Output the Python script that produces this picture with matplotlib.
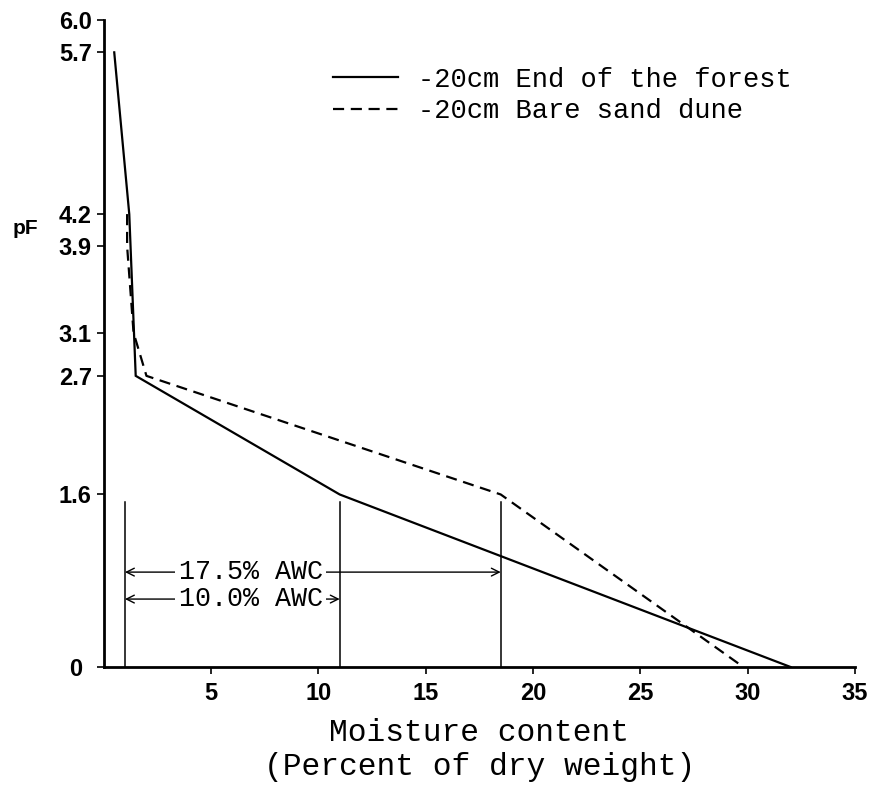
import matplotlib
matplotlib.use("Agg")
import matplotlib.pyplot as plt
from matplotlib.lines import Line2D

# Data
forest_x = [0.5, 1.2, 1.5, 11.0, 32.0]
forest_pf = [5.7, 4.2, 2.7, 1.6, 0.0]
dune_x = [1.1, 1.1, 1.4, 2.0, 18.5, 29.8]
dune_pf = [4.2, 3.9, 3.1, 2.7, 1.6, 0.0]
marker_x = [1.0, 11.0, 18.5]
marker_top = 1.53
awc_arrows = [(1.0, 18.5, 0.88, "17.5% AWC"), (1.0, 11.0, 0.63, "10.0% AWC")]
awc_text_x = 3.5
yticks = [0, 1.6, 2.7, 3.1, 3.9, 4.2, 5.7, 6.0]
yticklabels = ["0", "1.6", "2.7", "3.1", "3.9", "4.2", "5.7", "6.0"]
xticks = [5, 10, 15, 20, 25, 30, 35]
legend_labels = ["-20cm End of the forest", "-20cm Bare sand dune"]

mono = "Liberation Mono"
sans = "Liberation Sans"

fig = plt.figure(figsize=(8.74, 7.86), dpi=100)
ax = fig.add_axes([103.5 / 874, 1 - 667 / 786, (855 - 103.5) / 874, (667 - 20) / 786])

ax.plot(forest_x, forest_pf, color="black", lw=1.6, solid_joinstyle="miter")
ax.plot(dune_x, dune_pf, color="black", lw=1.6, linestyle=(0, (5, 3)))

for mx in marker_x:
    ax.plot([mx, mx], [0, marker_top], color="black", lw=1.1)

for x0, x1, yy, label in awc_arrows:
    ax.annotate("", xy=(x0, yy), xytext=(x1, yy),
                arrowprops=dict(arrowstyle="<->", lw=1.0, color="black",
                                shrinkA=0, shrinkB=0, mutation_scale=14))
    ax.text(awc_text_x, yy, label, fontfamily=mono, fontsize=19.3,
            ha="left", va="center",
            bbox=dict(facecolor="white", edgecolor="none", pad=2.5))

ax.set_xlim(0, 35)
ax.set_ylim(0, 6)
ax.set_xticks(xticks)
ax.set_xticklabels([str(t) for t in xticks], fontfamily=sans, fontweight="bold", fontsize=17)
ax.set_yticks(yticks)
ax.set_yticklabels(yticklabels, fontfamily=sans, fontweight="bold", fontsize=17)
ax.get_yticklabels()[0].set_x(-0.013)

for s in ["top", "right"]:
    ax.spines[s].set_visible(False)
for s in ["left", "bottom"]:
    ax.spines[s].set_linewidth(2.0)
ax.tick_params(axis="both", direction="out", length=5, width=1.2, pad=3.5)
ax.tick_params(axis="x", pad=6)

ax.set_xlabel("Moisture content\n(Percent of dry weight)", fontfamily=mono,
              fontsize=22.5, linespacing=1.17, labelpad=9)
ax.set_ylabel("pF", fontfamily=sans, fontweight="bold", fontsize=15, rotation=0,
              ha="center", va="center")
ax.yaxis.set_label_coords(-0.104, 0.677)

handles = [Line2D([], [], color="black", lw=1.6),
           Line2D([], [], color="black", lw=1.6, linestyle=(0, (5, 3)))]
ax.legend(handles, legend_labels, loc="upper left", bbox_to_anchor=(0.305, 0.928),
          frameon=False, prop={"family": mono, "size": 19.5}, handlelength=2.4,
          handletextpad=0.75, labelspacing=0.2, borderpad=0, borderaxespad=0)

fig.savefig("out.png", dpi=100)
